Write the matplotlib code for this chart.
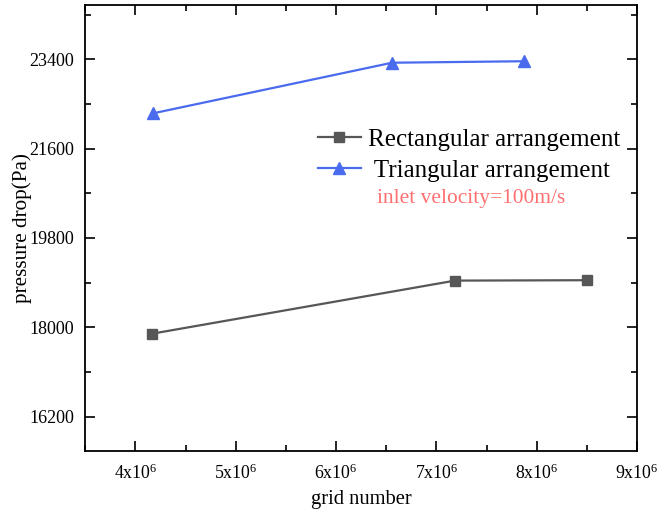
import matplotlib
matplotlib.use("Agg")
import matplotlib.pyplot as plt
from matplotlib.ticker import MultipleLocator, FixedLocator, FuncFormatter

plt.rcParams['font.family'] = ['Liberation Serif', 'DejaVu Serif']
plt.rcParams['mathtext.fontset'] = 'custom'
plt.rcParams['mathtext.rm'] = 'Liberation Serif'
plt.rcParams['mathtext.it'] = 'Liberation Serif:italic'

# grid-independence study: pressure drop versus mesh size
rect_grid = [4.165e6, 7.186e6, 8.50e6]
rect_dp = [17870, 18940, 18948]
tri_grid = [4.175e6, 6.558e6, 7.874e6]
tri_dp = [22310, 23330, 23360]

rect_label = "Rectangular arrangement"
tri_label = " Triangular arrangement"
note = "inlet velocity=100m/s"

y_major = [16200, 18000, 19800, 21600, 23400]
y_minor = [15300, 17100, 18900, 20700, 22500, 24300]

fig = plt.figure(figsize=(6.61, 5.17), dpi=100)
ax = fig.add_axes([0.129, 0.127, 0.8347, 0.864])

ax.plot(rect_grid, rect_dp, color='#575757', lw=1.6, marker='s', ms=7.2,
        label=rect_label)
ax.plot(tri_grid, tri_dp, color='#4B6BEF', lw=1.6, marker='^', ms=9,
        label=tri_label)

ax.set_xlim(3.5e6, 9e6)
ax.set_ylim(15500, 24500)
ax.xaxis.set_major_locator(MultipleLocator(1e6))
ax.xaxis.set_minor_locator(MultipleLocator(5e5))
ax.yaxis.set_major_locator(FixedLocator(y_major))
ax.yaxis.set_minor_locator(FixedLocator(y_minor))

ax.xaxis.set_major_formatter(FuncFormatter(lambda v, p: r'%dx10$^{6}$' % round(v / 1e6)))
ax.yaxis.set_major_formatter(FuncFormatter(lambda v, p: '%d' % v))

ax.tick_params(which='both', direction='in', top=True, right=True, width=1.2)
ax.tick_params(axis='y', which='major', labelsize=13, pad=8)
ax.tick_params(axis='x', which='major', labelsize=12.8, pad=9)
ax.tick_params(which='major', length=7)
ax.tick_params(which='minor', length=4.5)
for s in ax.spines.values():
    s.set_linewidth(1.3)

ax.set_xlabel("grid number", fontsize=14.8, labelpad=5)
ax.set_ylabel("pressure drop(Pa)", fontsize=15.2)
ax.yaxis.set_label_coords(-0.096, 0.5)

leg = ax.legend(loc='upper left', bbox_to_anchor=(0.422, 0.723), frameon=False,
                fontsize=18, handlelength=1.7, handletextpad=0.3,
                labelspacing=0.35, borderaxespad=0, borderpad=0)
ax.text(0.528, 0.565, note, transform=ax.transAxes, color='#FF6F6F',
        fontsize=15.4, ha='left', va='center')

fig.savefig("out.png", dpi=100)
